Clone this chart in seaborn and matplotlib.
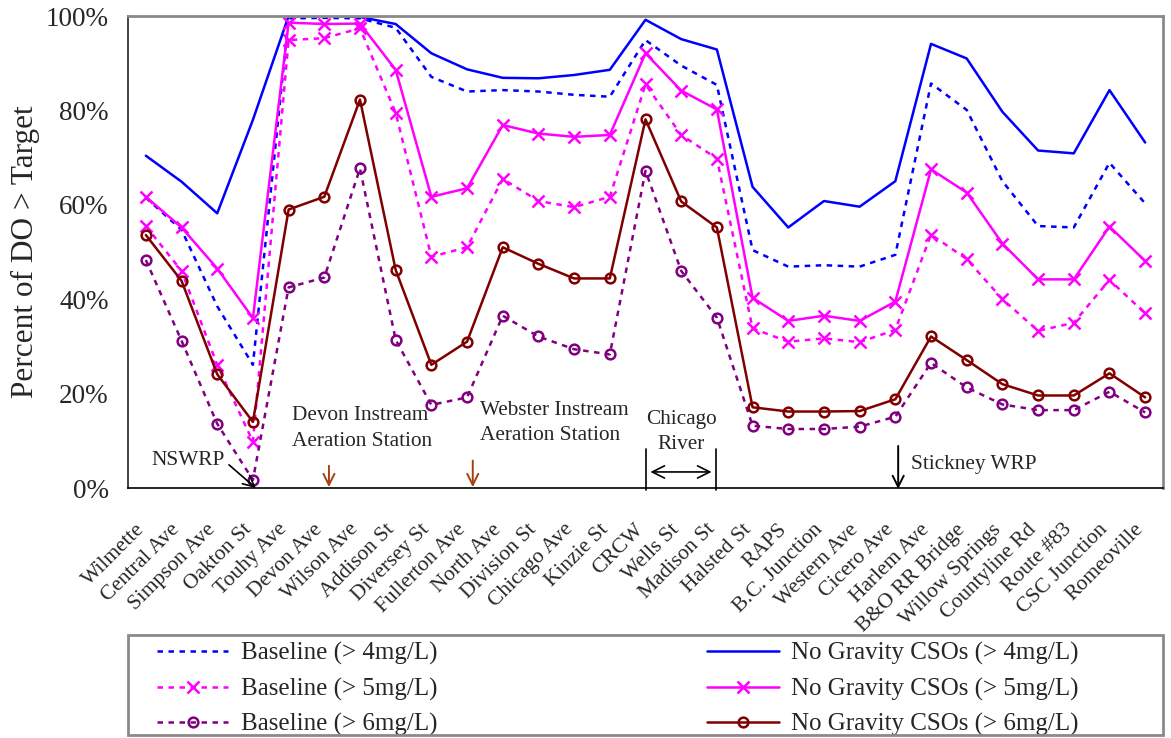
import numpy as np
import pandas as pd
import matplotlib
matplotlib.use('Agg')
import matplotlib.pyplot as plt
import matplotlib.transforms as mtrans
from matplotlib.patches import Rectangle
import seaborn as sns

stations = ['Wilmette', 'Central Ave', 'Simpson Ave', 'Oakton St', 'Touhy Ave', 'Devon Ave',
            'Wilson Ave', 'Addison St', 'Diversey St', 'Fullerton Ave', 'North Ave', 'Division St',
            'Chicago Ave', 'Kinzie St', 'CRCW', 'Wells St', 'Madison St', 'Halsted St', 'RAPS',
            'B.C. Junction', 'Western Ave', 'Cicero Ave', 'Harlem Ave', 'B&O RR Bridge',
            'Willow Springs', 'Countyline Rd', 'Route #83', 'CSC Junction', 'Romeoville']

base_4 = [61.5, 54.7, 38.5, 26.1, 99.5, 99.6, 99.5, 97.5, 87.1, 84.0, 84.3, 84.0, 83.3, 82.9,
          94.9, 89.5, 85.4, 50.4, 46.9, 47.2, 46.9, 49.4, 85.7, 80.1, 65.0, 55.5, 55.2, 68.9, 60.3]
nogr_4 = [70.4, 64.9, 58.2, 78.0, 100.0, 100.0, 99.8, 98.3, 92.1, 88.7, 86.9, 86.8, 87.5, 88.6,
          99.2, 95.1, 92.9, 63.8, 55.2, 60.8, 59.6, 65.0, 94.1, 91.0, 79.7, 71.5, 70.9, 84.3, 73.2]
base_5 = [55.5, 46.0, 26.1, 9.8, 94.9, 95.3, 97.4, 79.5, 49.0, 51.0, 65.5, 60.8, 59.5, 61.7,
          85.5, 74.8, 69.8, 33.8, 31.0, 31.7, 30.9, 33.5, 53.7, 48.5, 40.0, 33.3, 35.0, 44.1, 37.0]
nogr_5 = [61.7, 55.2, 46.5, 36.0, 98.6, 98.3, 98.4, 88.6, 61.7, 63.5, 76.9, 75.1, 74.4, 74.8,
          92.1, 84.2, 80.2, 40.3, 35.4, 36.5, 35.4, 39.5, 67.5, 62.6, 51.8, 44.2, 44.2, 55.4, 48.1]
base_6 = [48.3, 31.2, 13.6, 1.7, 42.5, 44.6, 67.7, 31.4, 17.6, 19.2, 36.5, 32.1, 29.4, 28.3,
          67.2, 46.0, 36.1, 13.2, 12.5, 12.5, 13.0, 15.1, 26.5, 21.3, 17.7, 16.5, 16.5, 20.4, 16.0]
nogr_6 = [53.6, 43.9, 24.1, 14.0, 59.0, 61.7, 82.3, 46.2, 26.1, 31.0, 51.0, 47.5, 44.4, 44.4,
          78.1, 60.7, 55.2, 17.1, 16.2, 16.2, 16.3, 18.8, 32.1, 27.1, 22.0, 19.6, 19.6, 24.3, 19.2]

dots = (0, (2.2, 2.2))
series = [
    ('Baseline (> 4mg/L)', base_4, '#0000FF', dots, None),
    ('Baseline (> 5mg/L)', base_5, '#FF00FF', dots, 'x'),
    ('Baseline (> 6mg/L)', base_6, '#800080', dots, 'o'),
    ('No Gravity CSOs (> 4mg/L)', nogr_4, '#0000FF', '-', None),
    ('No Gravity CSOs (> 5mg/L)', nogr_5, '#FF00FF', '-', 'x'),
    ('No Gravity CSOs (> 6mg/L)', nogr_6, '#800000', '-', 'o'),
]

sns.set_style('white')
plt.rcParams['font.family'] = ['Liberation Serif', 'DejaVu Serif']

fig = plt.figure(figsize=(11.71, 7.38), dpi=100)
ax = fig.add_axes([128 / 1171, 1 - 488 / 738, 1035 / 1171, 472 / 738])

pos = np.arange(len(stations))
handles = []
for name, vals, color, ls, mk in series:
    df = pd.DataFrame({'pos': pos, 'value': vals})
    sns.lineplot(data=df, x='pos', y='value', ax=ax, color=color, linewidth=1.8)
    line = ax.lines[-1]
    line.set_linestyle(ls)
    line.set_label(name)
    if mk == 'x':
        line.set_marker('x')
        line.set_markersize(8.5)
        line.set_markeredgewidth(1.8)
        line.set_markeredgecolor(color)
    elif mk == 'o':
        line.set_marker('o')
        line.set_markersize(7)
        line.set_markerfacecolor('none')
        line.set_markeredgewidth(1.8)
        line.set_markeredgecolor(color)
    handles.append(line)

ax.set_xlim(-0.5, len(stations) - 0.5)
ax.set_ylim(0, 100)
ax.set_yticks([0, 20, 40, 60, 80, 100])
ax.set_yticklabels([f'{v}%' for v in [0, 20, 40, 60, 80, 100]], fontsize=19.5)

# x labels drawn as rotated text, offset a little left/down like the original
ax.set_xticks(np.arange(len(stations) + 1) - 0.5)
ax.set_xticklabels([])
ax.tick_params(axis='x', length=5, width=1, color='black', direction='out')
shift = mtrans.ScaledTranslation(-11 / 100, -32 / 100, fig.dpi_scale_trans)
for i, name in enumerate(stations):
    ax.text(i, 0, name, transform=ax.get_xaxis_transform() + shift, rotation=45,
            ha='right', va='top', rotation_mode='anchor', fontsize=15.5)

ax.tick_params(axis='y', length=5, width=1, color='black', direction='out', pad=9)
ax.set_xlabel('')
ax.set_ylabel('Percent of DO > Target', fontsize=22.5, labelpad=4)

for s in ['top', 'right']:
    ax.spines[s].set_color('#8a8a8a')
    ax.spines[s].set_linewidth(2)
ax.spines['left'].set_color('#222222')
ax.spines['left'].set_linewidth(1.2)
ax.spines['bottom'].set_color('black')
ax.spines['bottom'].set_linewidth(1.2)

brown = '#A5400F'
txt = dict(fontsize=15.3, linespacing=1.45)
ax.text(2.2, 5.8, 'NSWRP', ha='right', va='center', fontsize=15.3)
ax.annotate('', xy=(3.14, -0.4), xytext=(2.27, 5.3),
            arrowprops=dict(arrowstyle='->', color='black', lw=1.2, mutation_scale=20),
            annotation_clip=False)
ax.text(4.09, 12.6, 'Devon Instream\nAeration Station', ha='left', va='center', **txt)
ax.annotate('', xy=(5.13, -0.4), xytext=(5.13, 5.3),
            arrowprops=dict(arrowstyle='->', color=brown, lw=1.4, mutation_scale=20),
            annotation_clip=False)
ax.text(9.36, 13.7, 'Webster Instream\nAeration Station', ha='left', va='center', **txt)
ax.annotate('', xy=(9.16, -0.4), xytext=(9.16, 6.4),
            arrowprops=dict(arrowstyle='->', color=brown, lw=1.4, mutation_scale=20),
            annotation_clip=False)
ax.text(15.0, 11.8, 'Chicago\nRiver', ha='center', va='center', **txt)
for xv in [14.01, 15.98]:
    ax.plot([xv, xv], [-0.4, 8.3], color='black', lw=1.2, clip_on=False)
ax.annotate('', xy=(15.93, 3.4), xytext=(14.06, 3.4),
            arrowprops=dict(arrowstyle='<->', color='black', lw=1.2, mutation_scale=22))
ax.annotate('', xy=(21.08, -0.8), xytext=(21.08, 9.5),
            arrowprops=dict(arrowstyle='->', color='black', lw=1.4, mutation_scale=20),
            annotation_clip=False)
ax.text(21.44, 4.9, 'Stickney WRP', ha='left', va='center', fontsize=15.3)

fig.patches.append(Rectangle((128 / 1171, 3 / 738), 1035 / 1171, 100 / 738,
                             transform=fig.transFigure, fill=False, edgecolor='#8a8a8a',
                             linewidth=2))
leg = ax.legend(handles, [h.get_label() for h in handles], ncol=2, loc='upper left',
                bbox_to_anchor=(157 / 1171, 1 - 642 / 738), bbox_transform=fig.transFigure,
                fontsize=18, frameon=False, handlelength=2.85, handletextpad=0.5,
                columnspacing=10.8, borderpad=0, borderaxespad=0, labelspacing=0.5)

fig.savefig('out.png', dpi=100)
